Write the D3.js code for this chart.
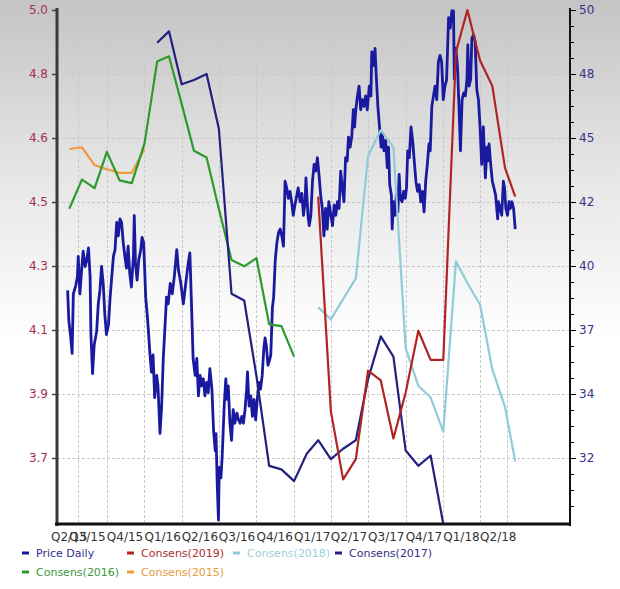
<html>
<head>
<script src="https://cdn.jsdelivr.net/npm/d3@7"></script>
<style>
body{margin:0;background:#fff}
svg text{font-family:"DejaVu Sans",Verdana,sans-serif}
</style>
</head>
<body>
<div id="chart"></div>
<script>
// quarter labels under the x axis, placed at the quarter start
var quarterLabels=["Q2/15","Q3/15","Q4/15","Q1/16","Q2/16","Q3/16","Q4/16","Q1/17","Q2/17","Q3/17","Q4/17","Q1/18","Q2/18"];
var quarterStarts=["2015-04-01","2015-07-01","2015-10-01","2016-01-01","2016-04-01","2016-07-01","2016-10-01","2017-01-01","2017-04-01","2017-07-01","2017-10-01","2018-01-01","2018-04-01"];
var gridDates=["2015-07-23","2015-10-01","2016-01-01","2016-04-01","2016-07-01","2016-10-01","2017-01-01","2017-04-01","2017-07-01","2017-10-01","2018-01-01","2018-04-01","2018-06-06"];

// axis ticks (labels are the rounded tick values)
var leftTicks=[5.0,4.82,4.64,4.46,4.28,4.10,3.92,3.74];
var rightTicks=[50.25,47.6,44.95,42.3,39.65,37.0,34.35,31.7];

// share price, right axis
var priceDaily=[
["2015-06-27",38.64],["2015-06-30",37.37],["2015-07-04",36.81],["2015-07-08",36.03],["2015-07-11",38.50],["2015-07-17",38.85],
["2015-07-21",39.21],["2015-07-23",40.05],["2015-07-27",38.50],["2015-07-31",39.42],["2015-08-04",40.26],["2015-08-09",39.63],
["2015-08-13",39.91],["2015-08-17",40.40],["2015-08-21",39.21],["2015-08-23",36.81],["2015-08-27",35.19],["2015-08-31",36.38],
["2015-09-06",36.95],["2015-09-10",38.08],["2015-09-14",38.64],["2015-09-18",39.63],["2015-09-22",38.93],["2015-09-26",37.65],
["2015-09-30",36.81],["2015-10-05",37.23],["2015-10-09",38.36],["2015-10-13",39.21],["2015-10-17",40.05],["2015-10-21",40.33],
["2015-10-25",41.46],["2015-10-29",40.90],["2015-11-02",41.60],["2015-11-06",41.46],["2015-11-10",40.62],["2015-11-14",40.05],
["2015-11-18",39.56],["2015-11-22",40.47],["2015-11-26",39.35],["2015-11-30",38.78],["2015-12-05",40.05],["2015-12-07",41.74],
["2015-12-10",39.77],["2015-12-14",39.07],["2015-12-18",39.91],["2015-12-23",40.33],["2015-12-26",40.83],["2015-12-30",40.62],
["2016-01-04",38.36],["2016-01-09",37.37],["2016-01-14",36.10],["2016-01-18",35.26],["2016-01-22",35.97],["2016-01-26",34.20],
["2016-01-31",35.12],["2016-02-03",34.69],["2016-02-08",32.72],["2016-02-12",33.85],["2016-02-16",35.82],["2016-02-20",37.09],
["2016-02-24",38.36],["2016-02-28",38.08],["2016-03-04",38.93],["2016-03-09",38.50],["2016-03-14",39.21],["2016-03-20",40.33],
["2016-03-24",39.49],["2016-03-30",38.93],["2016-04-05",38.08],["2016-04-11",38.93],["2016-04-17",39.77],["2016-04-21",40.19],
["2016-04-25",38.08],["2016-04-29",35.82],["2016-05-04",35.12],["2016-05-08",35.82],["2016-05-12",34.27],["2016-05-16",35.12],
["2016-05-20",34.69],["2016-05-24",34.98],["2016-05-28",34.27],["2016-06-01",34.83],["2016-06-05",34.41],["2016-06-09",35.40],
["2016-06-14",34.55],["2016-06-18",32.85],["2016-06-22",32.00],["2016-06-24",32.71],["2016-06-27",30.59],["2016-06-30",29.13],
["2016-07-02",31.31],["2016-07-06",30.88],["2016-07-09",31.73],["2016-07-14",33.85],["2016-07-18",34.98],["2016-07-21",34.13],
["2016-07-24",34.69],["2016-07-28",33.14],["2016-08-01",32.43],["2016-08-05",33.70],["2016-08-09",33.14],["2016-08-14",33.56],
["2016-08-18",33.28],["2016-08-22",33.14],["2016-08-26",33.42],["2016-08-30",33.14],["2016-09-03",33.70],["2016-09-07",34.55],
["2016-09-09",35.26],["2016-09-13",33.85],["2016-09-17",34.27],["2016-09-21",33.42],["2016-09-25",34.13],["2016-09-29",33.28],
["2016-10-03",34.13],["2016-10-07",34.83],["2016-10-11",34.55],["2016-10-15",35.12],["2016-10-19",36.24],["2016-10-22",36.67],
["2016-10-25",36.38],["2016-10-29",35.54],["2016-11-01",35.68],["2016-11-05",35.97],["2016-11-09",37.94],["2016-11-12",38.36],
["2016-11-16",39.91],["2016-11-20",40.62],["2016-11-24",41.04],["2016-11-28",41.18],["2016-12-02",40.90],["2016-12-06",40.47],
["2016-12-10",43.16],["2016-12-14",42.88],["2016-12-18",42.45],["2016-12-22",42.74],["2016-12-26",42.31],["2016-12-30",41.75],
["2017-01-03",42.17],["2017-01-07",42.52],["2017-01-11",42.88],["2017-01-16",42.31],["2017-01-20",42.66],["2017-01-24",41.75],
["2017-01-28",42.31],["2017-01-30",43.30],["2017-02-04",41.75],["2017-02-07",41.32],["2017-02-11",41.75],["2017-02-15",43.16],
["2017-02-19",43.86],["2017-02-23",43.58],["2017-02-27",44.14],["2017-03-03",43.42],["2017-03-07",42.59],["2017-03-11",42.03],
["2017-03-15",40.90],["2017-03-19",42.03],["2017-03-23",41.18],["2017-03-27",42.31],["2017-04-01",41.75],["2017-04-05",41.32],
["2017-04-09",42.17],["2017-04-13",41.75],["2017-04-17",42.31],["2017-04-21",42.03],["2017-04-25",43.58],["2017-04-29",42.88],
["2017-05-03",42.31],["2017-05-07",44.14],["2017-05-11",44.00],["2017-05-14",44.99],["2017-05-18",44.57],["2017-05-22",44.99],
["2017-05-26",46.12],["2017-05-29",45.41],["2017-06-01",46.12],["2017-06-05",46.69],["2017-06-09",47.10],["2017-06-13",46.12],
["2017-06-17",46.54],["2017-06-21",46.26],["2017-06-25",46.69],["2017-06-29",46.12],["2017-07-04",47.10],["2017-07-08",46.69],
["2017-07-10",48.52],["2017-07-14",47.95],["2017-07-18",48.66],["2017-07-21",47.53],["2017-07-25",46.26],["2017-07-29",45.41],
["2017-08-02",44.57],["2017-08-05",45.13],["2017-08-09",44.42],["2017-08-13",44.85],["2017-08-17",43.72],["2017-08-20",44.57],
["2017-08-23",43.02],["2017-08-27",42.59],["2017-08-29",41.18],["2017-09-01",42.31],["2017-09-05",41.75],["2017-09-08",42.59],
["2017-09-12",41.89],["2017-09-15",43.44],["2017-09-18",42.45],["2017-09-22",42.31],["2017-09-26",42.74],["2017-09-30",42.45],
["2017-10-03",42.88],["2017-10-06",44.42],["2017-10-10",44.14],["2017-10-14",45.41],["2017-10-18",44.85],["2017-10-22",44.00],
["2017-10-26",43.16],["2017-10-30",42.74],["2017-11-03",43.02],["2017-11-07",42.31],["2017-11-11",42.74],["2017-11-15",41.89],
["2017-11-19",43.16],["2017-11-23",43.86],["2017-11-27",44.71],["2017-11-30",44.42],["2017-12-04",46.26],["2017-12-08",46.69],
["2017-12-12",47.10],["2017-12-16",46.54],["2017-12-20",48.09],["2017-12-24",48.37],["2017-12-28",48.09],["2018-01-01",46.54],
["2018-01-05",47.10],["2018-01-09",47.35],["2018-01-14",49.93],["2018-01-18",49.50],["2018-01-22",50.21],["2018-01-26",50.21],
["2018-01-28",47.39],["2018-02-01",48.66],["2018-02-05",47.82],["2018-02-09",45.98],["2018-02-12",44.42],["2018-02-16",46.54],
["2018-02-20",46.82],["2018-02-24",46.69],["2018-02-28",47.39],["2018-03-02",48.80],["2018-03-05",47.10],["2018-03-09",47.39],
["2018-03-12",49.08],["2018-03-16",49.22],["2018-03-20",48.94],["2018-03-24",46.96],["2018-03-28",46.54],["2018-04-01",45.41],
["2018-04-05",43.86],["2018-04-09",45.41],["2018-04-14",43.30],["2018-04-18",44.57],["2018-04-20",44.00],["2018-04-23",44.71],
["2018-04-27",43.86],["2018-05-01",43.16],["2018-05-05",42.88],["2018-05-09",42.59],["2018-05-14",41.60],["2018-05-16",42.31],
["2018-05-20",42.03],["2018-05-24",41.75],["2018-05-28",43.16],["2018-05-31",42.88],["2018-06-03",42.03],["2018-06-07",41.75],
["2018-06-11",42.31],["2018-06-14",42.03],["2018-06-18",42.31],["2018-06-22",42.03],["2018-06-26",41.18]
];

// consensus EPS estimates, left axis
var consens2019=[["2017-03-01",4.475],["2017-04-01",3.871],["2017-05-01",3.680],["2017-06-01",3.737],["2017-07-01",3.986],["2017-08-01",3.958],
["2017-09-01",3.795],["2017-10-01",3.924],["2017-11-01",4.098],["2017-12-01",4.016],["2018-01-01",4.016],["2018-02-01",4.882],
["2018-03-01",5.0],["2018-04-01",4.858],["2018-05-01",4.786],["2018-06-01",4.556],["2018-06-26",4.475]];
var consens2018=[["2017-03-01",4.164],["2017-04-01",4.130],["2017-05-01",4.187],["2017-06-01",4.245],["2017-07-01",4.590],["2017-08-01",4.662],
["2017-09-01",4.614],["2017-10-01",4.049],["2017-11-01",3.943],["2017-12-01",3.910],["2018-01-01",3.814],["2018-02-01",4.293],
["2018-03-01",4.232],["2018-04-01",4.171],["2018-05-01",3.989],["2018-06-01",3.884],["2018-06-26",3.730]];
var consens2017=[["2016-02-01",4.908],["2016-03-01",4.940],["2016-04-01",4.791],["2016-05-01",4.803],["2016-06-01",4.820],["2016-07-01",4.666],
["2016-08-01",4.202],["2016-09-01",4.183],["2016-10-01",3.970],["2016-11-01",3.718],["2016-12-01",3.708],["2017-01-01",3.675],
["2017-02-01",3.752],["2017-03-01",3.790],["2017-04-01",3.737],["2017-05-01",3.766],["2017-06-01",3.790],["2017-07-01",3.962],
["2017-08-01",4.082],["2017-09-01",4.025],["2017-10-01",3.761],["2017-11-01",3.718],["2017-12-01",3.747],["2018-01-01",3.555]];
var consens2016=[["2015-07-01",4.441],["2015-08-01",4.523],["2015-09-01",4.499],["2015-10-01",4.601],["2015-11-01",4.521],["2015-12-01",4.513],
["2016-01-01",4.624],["2016-02-01",4.855],["2016-03-01",4.870],["2016-04-01",4.736],["2016-05-01",4.604],["2016-06-01",4.585],
["2016-07-01",4.440],["2016-08-01",4.297],["2016-09-01",4.279],["2016-10-01",4.302],["2016-11-01",4.116],["2016-12-01",4.111],
["2017-01-01",4.025]];
var consens2015=[["2015-07-01",4.609],["2015-08-01",4.614],["2015-09-01",4.564],["2015-10-01",4.552],["2015-11-01",4.542],["2015-12-01",4.542],
["2016-01-01",4.609]];

var legendNames=["Price Daily","Consens(2019)","Consens(2018)","Consens(2017)","Consens(2016)","Consens(2015)"];
var legendColors=["#1a1aa0","#b02424","#92cbd8","#22227e","#2c9a2c","#f09a3a"];
var legendText=["#30308c","#a83030","#9ccfdc","#30307e","#3a9a3a","#e89a40"];

var parse=d3.timeParse("%Y-%m-%d");
var W=620,H=589;
var svg=d3.select("#chart").append("svg").attr("width",W).attr("height",H);

var grad=svg.append("defs").append("linearGradient").attr("id","bg")
	.attr("x1",0).attr("y1",0).attr("x2",0).attr("y2",1);
grad.append("stop").attr("offset","0%").attr("stop-color","#c4c4c4");
grad.append("stop").attr("offset","30%").attr("stop-color","#e6e6e6");
grad.append("stop").attr("offset","58%").attr("stop-color","#ffffff");
svg.append("rect").attr("width",W).attr("height",H).attr("fill","url(#bg)");

var x=d3.scaleTime().domain([parse("2015-06-01"),parse("2018-11-07")]).range([57,570]);
var yL=d3.scaleLinear().domain([5.0-8*0.18,5.0]).range([522,10]);
var yR=d3.scaleLinear().domain([50.25-8*2.65,50.25]).range([522,10]);

// grid
var grid=svg.append("g").attr("stroke","#c8c8c8").attr("stroke-dasharray","3,2").attr("stroke-width",1);
grid.selectAll(".h").data(leftTicks.slice(1)).enter().append("line")
	.attr("x1",57).attr("x2",570).attr("y1",d=>Math.round(yL(d))+0.5).attr("y2",d=>Math.round(yL(d))+0.5);
grid.selectAll(".v").data(gridDates).enter().append("line")
	.attr("x1",d=>Math.round(x(parse(d)))+0.5).attr("x2",d=>Math.round(x(parse(d)))+0.5).attr("y1",10).attr("y2",522);

// series
function draw(data,scale,color,w){
	var line=d3.line().x(d=>x(parse(d[0]))).y(d=>scale(d[1]));
	svg.append("path").datum(data).attr("d",line).attr("fill","none")
		.attr("stroke",color).attr("stroke-width",w).attr("stroke-linejoin","round");
}
draw(priceDaily,yR,legendColors[0],2.8);
draw(consens2015,yL,legendColors[5],2.2);
draw(consens2016,yL,legendColors[4],2.2);
draw(consens2017,yL,legendColors[3],2.2);
draw(consens2018,yL,legendColors[2],2.2);
draw(consens2019,yL,legendColors[1],2.2);

// left axis
var axL=d3.axisLeft(yL).tickValues(leftTicks).tickFormat(d=>d.toFixed(1)).tickSize(5).tickSizeOuter(0);
var gL=svg.append("g").attr("transform","translate(57,0)").call(axL);
gL.select(".domain").remove();
gL.selectAll(".tick line").attr("stroke","#444").attr("stroke-width",1.5);
gL.selectAll(".tick text").attr("fill","#a3304a").attr("font-size",12).attr("x",-9);
svg.append("line").attr("x1",57).attr("x2",57).attr("y1",8).attr("y2",526).attr("stroke","#3a3a3a").attr("stroke-width",3);

// right axis with minor ticks
var minor=[];
for(var i=0;i<rightTicks.length;i++) for(var k=1;k<4;k++) minor.push(rightTicks[i]-k*2.65/4);
var axRm=d3.axisRight(yR).tickValues(minor.filter(v=>yR(v)<=522)).tickFormat("").tickSize(4).tickSizeOuter(0);
var gRm=svg.append("g").attr("transform","translate(570,0)").call(axRm);
gRm.select(".domain").remove();
var axR=d3.axisRight(yR).tickValues(rightTicks).tickFormat(d3.format(".0f")).tickSize(6).tickSizeOuter(0);
var gR=svg.append("g").attr("transform","translate(570,0)").call(axR);
gR.select(".domain").remove();
gR.selectAll(".tick text").attr("fill","#34348c").attr("font-size",12).attr("x",9);
svg.append("line").attr("x1",570).attr("x2",570).attr("y1",8).attr("y2",526).attr("stroke","#111").attr("stroke-width",2);

// bottom axis
svg.append("line").attr("x1",55).attr("x2",571).attr("y1",524).attr("y2",524).attr("stroke","#111").attr("stroke-width",3);
svg.append("g").selectAll("text").data(quarterLabels).enter().append("text")
	.attr("x",(d,i)=>Math.max(x(parse(quarterStarts[i])),51))
	.attr("y",541).attr("font-size",12).attr("fill","#333").text(d=>d);

// legend
var legPos=[[22,553],[127,553],[233,553],[335,553],[22,572],[127,572]];
var leg=svg.append("g").selectAll("g").data(legendNames).enter().append("g")
	.attr("transform",(d,i)=>"translate("+legPos[i][0]+","+legPos[i][1]+")");
leg.append("rect").attr("x",0).attr("y",-1.5).attr("width",7).attr("height",3).attr("fill",(d,i)=>legendColors[i]);
leg.append("text").attr("x",14).attr("y",4).attr("font-size",11).attr("fill",(d,i)=>legendText[i]).text(d=>d);
</script>
</body>
</html>
